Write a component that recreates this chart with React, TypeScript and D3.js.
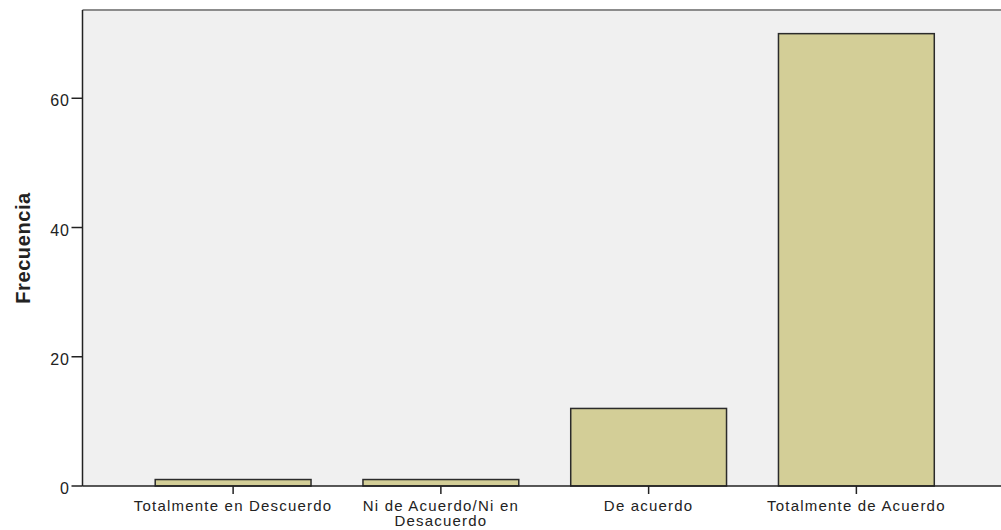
import React, { useEffect, useRef } from 'react'
import * as d3 from 'd3'

// category labels (multi-line where the original wraps)
const categories = [
  'Totalmente en Descuerdo',
  'Ni de Acuerdo/Ni en Desacuerdo',
  'De acuerdo',
  'Totalmente de Acuerdo',
]
const labelLines = [
  ['Totalmente en Descuerdo'],
  ['Ni de Acuerdo/Ni en', 'Desacuerdo'],
  ['De acuerdo'],
  ['Totalmente de Acuerdo'],
]
const frecuencias = [1, 1, 12, 70]
const yTicks = [0, 20, 40, 60]
const yTitle = 'Frecuencia'

const W = 1001
const H = 530

const App = () => {
  const ref = useRef<SVGSVGElement>(null)

  useEffect(() => {
    const svg = d3.select(ref.current)
    svg.selectAll('*').remove()

    const left = 82.5, top = 10, bottom = 486, right = 1007
    const font = '"Liberation Sans", Arial, sans-serif'

    const x = d3.scaleBand<string>()
      .domain(categories)
      .range([left, right])
      .paddingInner(0.25)
      .paddingOuter(0.35)

    const y = d3.scaleLinear()
      .domain([0, 73.66])
      .range([bottom, top])

    // plot background
    svg.append('rect')
      .attr('x', left).attr('y', top)
      .attr('width', W - left).attr('height', bottom - top)
      .attr('fill', '#f0f0f0')

    // top border
    svg.append('line')
      .attr('x1', left).attr('x2', W)
      .attr('y1', top).attr('y2', top)
      .attr('stroke', '#8c8c8c').attr('stroke-width', 2)

    // bars
    svg.selectAll('.bar')
      .data(frecuencias)
      .enter().append('rect')
      .attr('class', 'bar')
      .attr('x', (d, i) => x(categories[i])!)
      .attr('y', d => y(d))
      .attr('width', x.bandwidth())
      .attr('height', d => bottom - y(d))
      .attr('fill', '#d3ce97')
      .attr('stroke', '#2b2b2b')
      .attr('stroke-width', 1.5)

    // axes lines
    svg.append('line')
      .attr('x1', left).attr('x2', left)
      .attr('y1', top).attr('y2', bottom)
      .attr('stroke', '#222').attr('stroke-width', 1.5)
    svg.append('line')
      .attr('x1', left).attr('x2', W)
      .attr('y1', bottom).attr('y2', bottom)
      .attr('stroke', '#222').attr('stroke-width', 1.5)

    // y ticks
    const yt = svg.append('g')
    yt.selectAll('line')
      .data(yTicks)
      .enter().append('line')
      .attr('x1', left - 11).attr('x2', left)
      .attr('y1', d => y(d)).attr('y2', d => y(d))
      .attr('stroke', '#222').attr('stroke-width', 1.5)
    yt.selectAll('text')
      .data(yTicks)
      .enter().append('text')
      .attr('x', left - 13)
      .attr('y', d => y(d) + 8)
      .attr('text-anchor', 'end')
      .attr('font-family', font)
      .attr('font-size', 16)
      .attr('letter-spacing', 0.7)
      .attr('fill', '#222')
      .text(d => d)

    // x ticks
    const xt = svg.append('g')
    xt.selectAll('line')
      .data(categories)
      .enter().append('line')
      .attr('x1', d => x(d)! + x.bandwidth() / 2)
      .attr('x2', d => x(d)! + x.bandwidth() / 2)
      .attr('y1', bottom).attr('y2', bottom + 8)
      .attr('stroke', '#222').attr('stroke-width', 1.5)
    const lbl = xt.selectAll('text')
      .data(categories)
      .enter().append('text')
      .attr('text-anchor', 'middle')
      .attr('font-family', font)
      .attr('font-size', 15)
      .attr('letter-spacing', 1.2)
      .attr('fill', '#222')
    lbl.each(function (d, i) {
      const t = d3.select(this)
      labelLines[i].forEach((line, j) => {
        t.append('tspan')
          .attr('x', x(d)! + x.bandwidth() / 2)
          .attr('y', 510.5 + j * 15.5)
          .text(line)
      })
    })

    // y title
    svg.append('text')
      .attr('transform', 'translate(30,248) rotate(-90)')
      .attr('text-anchor', 'middle')
      .attr('font-family', font)
      .attr('font-size', 20)
      .attr('font-weight', 'bold')
      .attr('letter-spacing', 0.6)
      .attr('fill', '#222')
      .text(yTitle)
  }, [])

  return (
    <svg ref={ref} width={W} height={H}
      style={{ position: 'absolute', left: 0, top: 0, background: '#fff' }} />
  )
}

export default App
